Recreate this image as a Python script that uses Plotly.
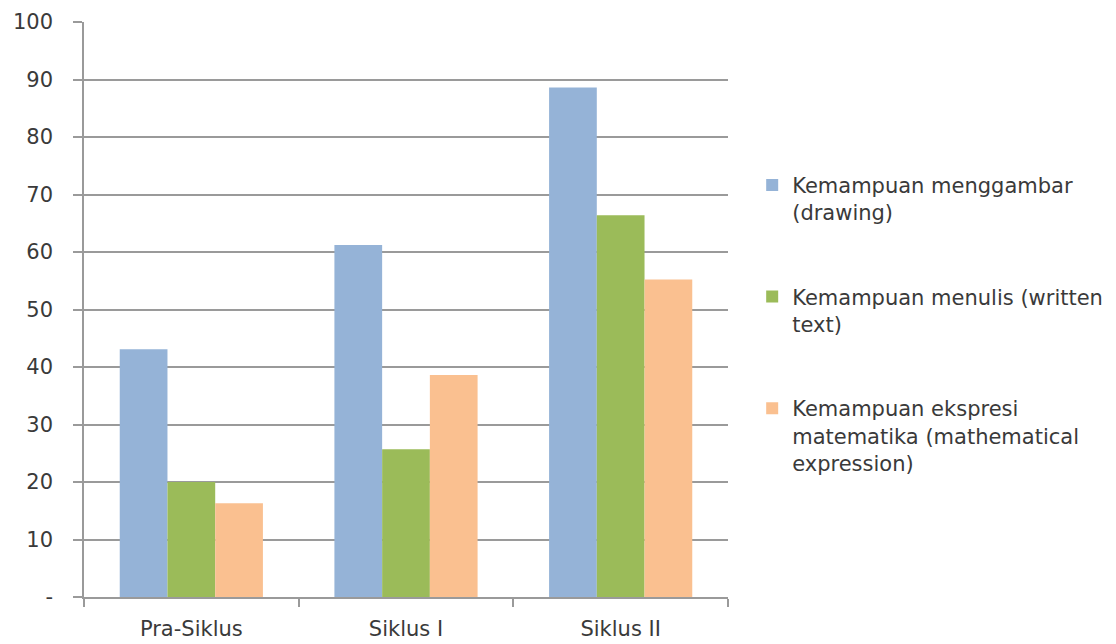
import plotly.graph_objects as go

categories = ["Pra-Siklus", "Siklus I", "Siklus II"]
series_names = [
    "Kemampuan menggambar<br>(drawing)",
    "Kemampuan menulis (written<br>text)",
    "Kemampuan ekspresi<br>matematika (mathematical<br>expression)",
]
drawing = [43.1, 61.2, 88.6]
written = [20.0, 25.7, 66.4]
expression = [16.3, 38.6, 55.2]
colors = ["#95B3D7", "#9BBB59", "#FAC090"]
y_tickvals = [0, 10, 20, 30, 40, 50, 60, 70, 80, 90, 100]
y_ticktext = ["-", "10", "20", "30", "40", "50", "60", "70", "80", "90", "100"]

FONT = "DejaVu Sans"
TXT = "#3a3a3a"
GRID = "#9a9a9a"

fig = go.Figure()
for i, (name, vals) in enumerate(zip(series_names, [drawing, written, expression])):
    fig.add_trace(go.Bar(
        x=categories, y=vals, name=name,
        marker=dict(color=colors[i], line=dict(width=0)),
        legendgroup=f"g{i}",
    ))

fig.update_layout(
    width=1116, height=644,
    margin=dict(l=84, r=388, t=22, b=47),
    paper_bgcolor="white", plot_bgcolor="white",
    barmode="group", bargap=0.333, bargroupgap=0,
    font=dict(family=FONT, size=21, color=TXT),
    legend=dict(
        xref="container", yref="container",
        x=0.674, xanchor="left", y=0.744, yanchor="top",
        font=dict(family=FONT, size=21, color=TXT),
        tracegroupgap=54, valign="top",
        itemwidth=30, bgcolor="rgba(0,0,0,0)",
    ),
    xaxis=dict(
        showline=True, linecolor=GRID, linewidth=1.5,
        ticks="outside", tickson="boundaries", ticklen=8, tickcolor=GRID, tickwidth=1.5,
        showgrid=False, tickfont=dict(family=FONT, size=21, color=TXT),
        ticklabelstandoff=12, automargin=False,
    ),
    yaxis=dict(
        range=[0, 100], tickvals=y_tickvals, ticktext=y_ticktext,
        showline=True, linecolor=GRID, linewidth=1.5,
        ticks="outside", ticklen=9, tickcolor=GRID, tickwidth=1.5,
        showgrid=True, gridcolor=GRID, gridwidth=1.5,
        zeroline=False,
        tickfont=dict(family=FONT, size=21, color=TXT),
        ticklabelstandoff=16, automargin=False,
    ),
)

fig.write_html("out.html")
